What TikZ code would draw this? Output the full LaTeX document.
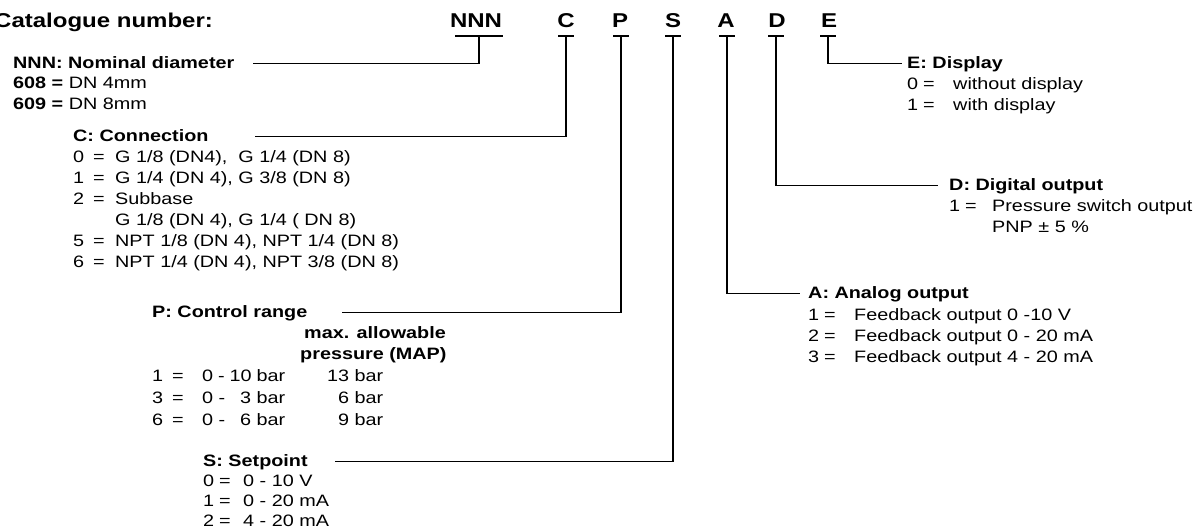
\documentclass[tikz,border=0pt]{standalone}
\usepackage{fontspec}
\setmainfont{Liberation Sans}[FakeStretch=1.2]
\usepackage{tikz}

% key = value rows
\newcommand{\kv}[4]{\makebox[#1][l]{#3}\makebox[#2][l]{=}#4}
\newcommand{\prow}[3]{\kv{20pt}{30pt}{#1}{\makebox[83pt][s]{#2}\makebox[98pt][r]{#3}}}

\tikzset{
  code/.style={font=\fontsize{20}{24}\selectfont\bfseries, inner sep=0pt, anchor=base},
  head/.style={font=\fontsize{16.5}{21}\selectfont\bfseries, inner sep=0pt,
    anchor=base west, text height=12pt, text depth=3pt},
  body/.style={font=\fontsize{16.5}{21}\selectfont, inner sep=0pt, anchor=base west},
  lead/.style={line width=1.1pt},
}

\begin{document}
\begin{tikzpicture}[x=1pt,y=-1pt]
  \useasboundingbox (0,0) rectangle (1197,531);

  % catalogue code
  \node[code, anchor=base west] (title) at (-6,27) {Catalogue number:};
  \node[code] (cN) at (476,27) {NNN};
  \node[code] (cC) at (566,27) {C};
  \node[code] (cP) at (620,27) {P};
  \node[code] (cS) at (673,27) {S};
  \node[code] (cA) at (726,27) {A};
  \node[code] (cD) at (777,27) {D};
  \node[code] (cE) at (829,27) {E};

  \coordinate (tN) at (479,36);
  \coordinate (tC) at (566,36);
  \coordinate (tP) at (621,36);
  \coordinate (tS) at (673,36);
  \coordinate (tA) at (727,36);
  \coordinate (tD) at (776,36);
  \coordinate (tE) at (828,36);
  \draw[lead] ([xshift=-24pt]tN) -- ([xshift=24pt]tN);
  \draw[lead] ([xshift=-8pt]tC) -- ([xshift=8pt]tC);
  \draw[lead] ([xshift=-8pt]tP) -- ([xshift=8pt]tP);
  \draw[lead] ([xshift=-8pt]tS) -- ([xshift=8pt]tS);
  \draw[lead] ([xshift=-8pt]tA) -- ([xshift=8pt]tA);
  \draw[lead] ([xshift=-8pt]tD) -- ([xshift=8pt]tD);
  \draw[lead] ([xshift=-8pt]tE) -- ([xshift=8pt]tE);

  % left column
  \node[head] (hN) at (13,68) {NNN: Nominal diameter};
  \node[body] (bN) at (13,88) {\begin{tabular}[t]{@{}l@{}}
    \textbf{608 =} DN 4mm\\
    \textbf{609 =} DN 8mm
  \end{tabular}};

  \node[head] (hC) at (73,141) {C: Connection};
  \node[body] (bC) at (73,162) {\begin{tabular}[t]{@{}l@{}}
    \kv{20pt}{22pt}{0}{G 1/8 (DN4),\ \ G 1/4 (DN 8)}\\
    \kv{20pt}{22pt}{1}{G 1/4 (DN 4),\ G 3/8 (DN 8)}\\
    \kv{20pt}{22pt}{2}{Subbase}\\
    \hspace*{42pt}G 1/8 (DN 4),\ G 1/4 ( DN 8)\\
    \kv{20pt}{22pt}{5}{NPT 1/8 (DN 4), NPT 1/4 (DN 8)}\\
    \kv{20pt}{22pt}{6}{NPT 1/4 (DN 4), NPT 3/8 (DN 8)}
  \end{tabular}};

  \node[head] (hP) at (152,317) {P: Control range};
  \node[body] (bP) at (152,338) {\begin{tabular}[t]{@{}l@{}}
    \hspace*{152pt}\textbf{max. allowable}\\
    \hspace*{148pt}\textbf{pressure (MAP)}\\[1pt]
    \prow{1}{0 - 10 bar}{13 bar}\\[1pt]
    \prow{3}{0 -\hfill 3 bar}{6 bar}\\[1pt]
    \prow{6}{0 -\hfill 6 bar}{9 bar}
  \end{tabular}};

  \node[head] (hS) at (203,466) {S: Setpoint};
  \node[body] (bS) at (203,486) {\begin{tabular}[t]{@{}l@{}}
    \kv{16pt}{24pt}{0}{0 - 10 V}\\[-1pt]
    \kv{16pt}{24pt}{1}{0 - 20 mA}\\[-1pt]
    \kv{16pt}{24pt}{2}{4 - 20 mA}
  \end{tabular}};

  % right column
  \node[head] (hE) at (907,68) {E: Display};
  \node[body] (bE) at (907,89) {\begin{tabular}[t]{@{}l@{}}
    \kv{16pt}{30pt}{0}{without display}\\
    \kv{16pt}{30pt}{1}{with display}
  \end{tabular}};

  \node[head] (hD) at (949,190) {D: Digital output};
  \node[body] (bD) at (949,211) {\begin{tabular}[t]{@{}l@{}}
    \kv{16pt}{27pt}{1}{Pressure switch output}\\
    \hspace*{43pt}PNP ± 5 \%
  \end{tabular}};

  \node[head] (hA) at (808,298) {A: Analog output};
  \node[body] (bA) at (808,320) {\begin{tabular}[t]{@{}l@{}}
    \kv{16pt}{30pt}{1}{Feedback output 0 -10 V}\\
    \kv{16pt}{30pt}{2}{Feedback output 0 - 20 mA}\\
    \kv{16pt}{30pt}{3}{Feedback output 4 - 20 mA}
  \end{tabular}};

  % leader lines
  \coordinate (eN) at (253,0);
  \coordinate (eC) at (255,0);
  \coordinate (eP) at (342,0);
  \coordinate (eS) at (335,0);
  \draw[lead] (tN) |- (eN |- hN.west);
  \draw[lead] (tC) |- (eC |- hC.west);
  \draw[lead] (tP) |- (eP |- hP.west);
  \draw[lead] (tS) |- (eS |- hS.west);
  \draw[lead] (tA) |- ([xshift=-8pt]hA.west);
  \draw[lead] (tD) |- ([xshift=-11pt]hD.west);
  \draw[lead] (tE) |- ([xshift=-5pt]hE.west);
\end{tikzpicture}
\end{document}
